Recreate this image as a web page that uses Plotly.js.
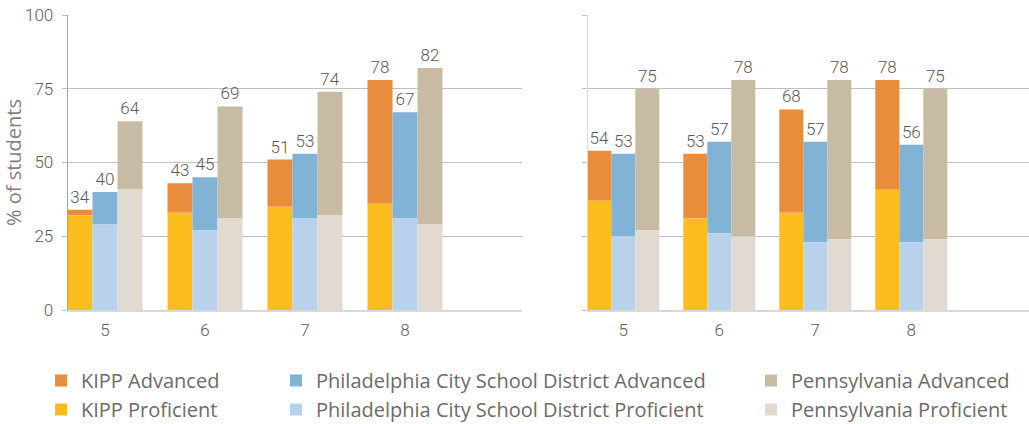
<!DOCTYPE html>
<html>
<head>
<meta charset="utf-8">
<script src="https://cdn.plot.ly/plotly-3.0.1.min.js"></script>
<style>html,body{margin:0;padding:0;background:#fff;}#chart{width:1029px;height:424px;}</style>
</head>
<body>
<div id="chart"></div>
<script>
// ---- data ----
const grades = ["5", "6", "7", "8"];
// Left panel
const leftKippProf  = [32, 33, 35, 36];
const leftKippTotal = [34, 43, 51, 78];
const leftPhilProf  = [29, 27, 31, 31];
const leftPhilTotal = [40, 45, 53, 67];
const leftPaProf    = [41, 31, 32, 29];
const leftPaTotal   = [64, 69, 74, 82];
// Right panel
const rightKippProf  = [37, 31, 33, 41];
const rightKippTotal = [54, 53, 68, 78];
const rightPhilProf  = [25, 26, 23, 23];
const rightPhilTotal = [53, 57, 57, 56];
const rightPaProf    = [27, 25, 24, 24];
const rightPaTotal   = [75, 78, 78, 75];

const seriesNames = {
  kippAdv: "KIPP Advanced", kippProf: "KIPP Proficient",
  philAdv: "Philadelphia City School District Advanced", philProf: "Philadelphia City School District Proficient",
  paAdv: "Pennsylvania Advanced", paProf: "Pennsylvania Proficient"
};
const colors = {
  kippAdv: "#E98C3B", kippProf: "#FBBD1E",
  philAdv: "#80B3D5", philProf: "#B8D2EB",
  paAdv: "#C7BBA4", paProf: "#E2D9D0"
};

const FONT = "'Open Sans', sans-serif";
const NUMFONT = "Roboto, 'Open Sans', sans-serif";
const TXT = "#5a5a5a";

function diff(t, p) { return t.map((v, i) => v - p[i]); }

function panel(xa, ya, data, showLegend) {
  const groups = [
    {key: "kipp", prof: data.kippProf, total: data.kippTotal, legend: "legend"},
    {key: "phil", prof: data.philProf, total: data.philTotal, legend: "legend2"},
    {key: "pa",   prof: data.paProf,   total: data.paTotal,   legend: "legend3"}
  ];
  const traces = [];
  groups.forEach(g => {
    traces.push({
      type: "bar", x: grades, y: diff(g.total, g.prof), base: g.prof,
      name: seriesNames[g.key + "Adv"], marker: {color: colors[g.key + "Adv"]},
      offsetgroup: g.key, xaxis: xa, yaxis: ya,
      text: g.total.map(String), textposition: "outside", cliponaxis: false,
      textfont: {family: NUMFONT, size: 17, color: TXT, weight: 300}, constraintext: "none",
      showlegend: showLegend, legend: g.legend, hoverinfo: "skip"
    });
    traces.push({
      type: "bar", x: grades, y: g.prof,
      name: seriesNames[g.key + "Prof"], marker: {color: colors[g.key + "Prof"]},
      offsetgroup: g.key, xaxis: xa, yaxis: ya,
      showlegend: showLegend, legend: g.legend, hoverinfo: "skip"
    });
  });
  return traces;
}

const traces = [].concat(
  panel("x", "y", {kippProf: leftKippProf, kippTotal: leftKippTotal, philProf: leftPhilProf, philTotal: leftPhilTotal, paProf: leftPaProf, paTotal: leftPaTotal}, true),
  panel("x2", "y2", {kippProf: rightKippProf, kippTotal: rightKippTotal, philProf: rightPhilProf, philTotal: rightPhilTotal, paProf: rightPaProf, paTotal: rightPaTotal}, false)
);

const W = 1029, H = 424;
const yDom = [(H - 310) / H, (H - 15) / H];

function xAxis(domain, range, anchor) {
  return {
    type: "category", domain: domain, range: range, anchor: anchor,
    showgrid: false, zeroline: false, showline: true, linecolor: "#d9d9d9", linewidth: 2,
    ticks: "outside", ticklen: 4, tickcolor: "rgba(0,0,0,0)",
    tickfont: {family: NUMFONT, size: 17, color: TXT, weight: 300}, fixedrange: true
  };
}
function yAxis(anchor, labels, lineColor) {
  return {
    domain: yDom, range: [0, 100], anchor: anchor, tickvals: [0, 25, 50, 75, 100],
    showgrid: true, gridcolor: "#c0c0c0", gridwidth: 1, zeroline: false,
    showline: true, linecolor: lineColor, linewidth: 1,
    ticks: "outside", ticklen: 5, tickcolor: "#c0c0c0", ticklabelstandoff: 5,
    showticklabels: labels, tickfont: {family: NUMFONT, size: 17, color: TXT, weight: 300},
    fixedrange: true
  };
}

const legendBase = {
  orientation: "v", xanchor: "left", yanchor: "top", y: (H - 361) / H,
  font: {family: FONT, size: 20, color: "#6b6b6b"}, traceorder: "normal",
  bgcolor: "rgba(0,0,0,0)", itemclick: false, itemdoubleclick: false
};

const layout = {
  width: W, height: H, margin: {l: 0, r: 0, t: 0, b: 0, autoexpand: false},
  paper_bgcolor: "#fff", plot_bgcolor: "#fff",
  barmode: "group", bargap: 0.25, bargroupgap: 0,
  xaxis: xAxis([67.7 / W, 522 / W], [-0.373, 4.17], "y"),
  yaxis: Object.assign(yAxis("x", true, "#a6a6a6"), {
    title: {text: "% of students", font: {family: FONT, size: 20, color: "#7f7f7f"}, standoff: 1}
  }),
  xaxis2: xAxis([587.7 / W, 1], [-0.371, 4.226], "y2"),
  yaxis2: yAxis("x2", false, "#dcdcdc"),
  legend: Object.assign({}, legendBase, {x: 41 / W}),
  legend2: Object.assign({}, legendBase, {x: 276 / W}),
  legend3: Object.assign({}, legendBase, {x: 751 / W}),
  showlegend: true
};

Plotly.newPlot("chart", traces, layout, {staticPlot: true, displayModeBar: false});
</script>
</body>
</html>
